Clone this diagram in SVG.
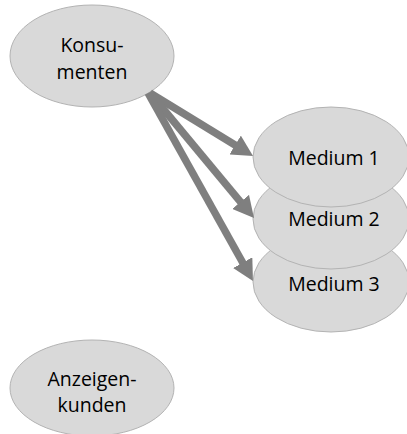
<svg xmlns="http://www.w3.org/2000/svg" width="407" height="434" viewBox="0 0 407 434">
<style>
.node ellipse{fill:#d9d9d9;stroke:#b3b3b3;stroke-width:1}
.node text{font-family:"Open Sans","Noto Sans","Liberation Sans",sans-serif;font-size:19.5px;fill:#000000;text-anchor:middle}
.conn line{stroke:#7f7f7f;stroke-width:7.5;fill:none}
</style>
<defs>
<marker id="ah" viewBox="0 0 21 22" refX="9" refY="11" markerWidth="21" markerHeight="22" markerUnits="userSpaceOnUse" orient="auto">
<path d="M0,0 L21,11 L0,22 z" fill="#7f7f7f"/>
</marker>
</defs>
<rect width="407" height="434" fill="#ffffff"/>
<g id="konsumenten" class="node">
<ellipse cx="92" cy="56" rx="82" ry="51"/>
<text x="92" y="52">Konsu-</text>
<text x="92" y="79">menten</text>
</g>
<g id="medium3" class="node">
<ellipse cx="331" cy="282" rx="78" ry="50"/>
<text x="334" y="291">Medium 3</text>
</g>
<g id="medium2" class="node">
<ellipse cx="331" cy="219" rx="78" ry="50"/>
<text x="334" y="226">Medium 2</text>
</g>
<g id="medium1" class="node">
<ellipse cx="331" cy="157" rx="78" ry="50"/>
<text x="334" y="165">Medium 1</text>
</g>
<g id="anzeigenkunden" class="node">
<ellipse cx="92" cy="388" rx="82" ry="48"/>
<text x="92" y="386">Anzeigen-</text>
<text x="92" y="412">kunden</text>
</g>
<g id="connectors" class="conn">
<line x1="150" y1="93" x2="242.8" y2="149.7" marker-end="url(#ah)"/>
<line x1="150" y1="93" x2="246.3" y2="208.8" marker-end="url(#ah)"/>
<line x1="148" y1="93" x2="247.1" y2="270.5" marker-end="url(#ah)"/>
</g>
</svg>
